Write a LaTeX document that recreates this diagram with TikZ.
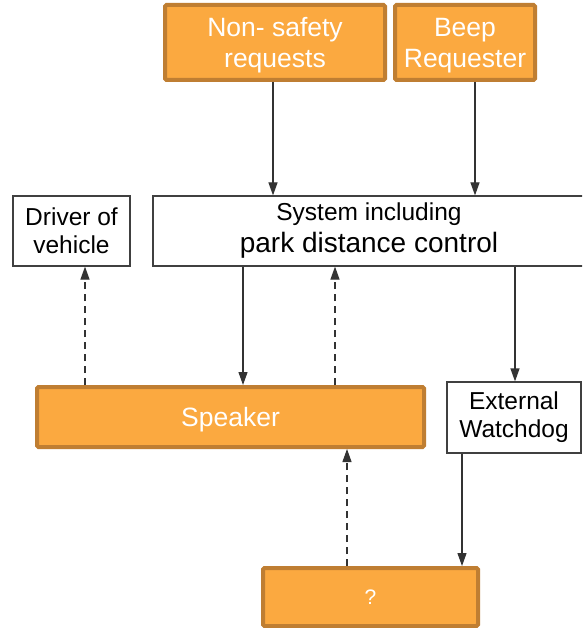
\documentclass[tikz,border=0pt]{standalone}
\usepackage{fontspec}
\setmainfont{Liberation Sans}
\usetikzlibrary{arrows.meta}
\definecolor{boxfill}{HTML}{FBA940}
\definecolor{boxedge}{HTML}{BF7E32}
\tikzset{
  orangebox/.style={draw=boxedge, fill=boxfill, line width=4pt, rounded corners=1.5pt,
    text=white, font=\fontsize{26.5}{31}\selectfont, align=center, inner sep=0pt,
    text depth=0pt},
  plainbox/.style={draw=black!75, line width=1.2pt, fill=white, align=center,
    font=\fontsize{24.5}{28}\selectfont, inner sep=0pt},
  flow/.style={draw=black!80, line width=1.2pt, -{Triangle[width=9pt,length=13pt]}},
  dflow/.style={flow, dash pattern=on 7pt off 5pt},
}
\begin{document}
\begin{tikzpicture}[x=1pt,y=-1pt]
\useasboundingbox (0,0) rectangle (582,628);
\fill[white] (0,0) rectangle (582,628);
\clip (0,0) rectangle (582,628);

% sources at the top
\node[orangebox, minimum width=220pt, minimum height=75pt] (nsr) at (275,42.5) {Non- safety\\requests};
\node[orangebox, minimum width=140pt, minimum height=75pt] (beep) at (465,42.5) {Beep\\Requester};

% main system and driver
\node[plainbox, minimum width=432pt, minimum height=70pt] (sys) at (369,231)
  {System including\\[4pt]{\fontsize{28}{30}\selectfont park distance control}};
\node[plainbox, minimum width=117pt, minimum height=70pt] (drv) at (71.5,231) {Driver of\\vehicle};

% speaker and watchdog
\node[orangebox, minimum width=387pt, minimum height=60pt] (spk) at (230.5,417) {Speaker};
\node[plainbox, minimum width=134pt, minimum height=71pt] (wd) at (514,417.5) {External\\Watchdog};

% unknown source at the bottom
\node[orangebox, minimum width=215pt, minimum height=58pt, font=\fontsize{21}{24}\selectfont] (unk) at (370.5,597) {?};

% connectors
\draw[flow] (nsr.south -| 273,0) -- (sys.north -| 273,0);
\draw[flow] (beep.south -| 475,0) -- (sys.north -| 475,0);
\draw[flow] (sys.south -| 243,0) -- (spk.north -| 243,0);
\draw[dflow] (spk.north -| 335,0) -- (sys.south -| 335,0);
\draw[dflow] (spk.north -| 85,0) -- (drv.south -| 85,0);
\draw[flow] (sys.south -| 515,0) -- (wd.north -| 515,0);
\draw[flow] (wd.south -| 462,0) -- (unk.north -| 462,0);
\draw[dflow] (unk.north -| 347,0) -- (spk.south -| 347,0);
\end{tikzpicture}
\end{document}
